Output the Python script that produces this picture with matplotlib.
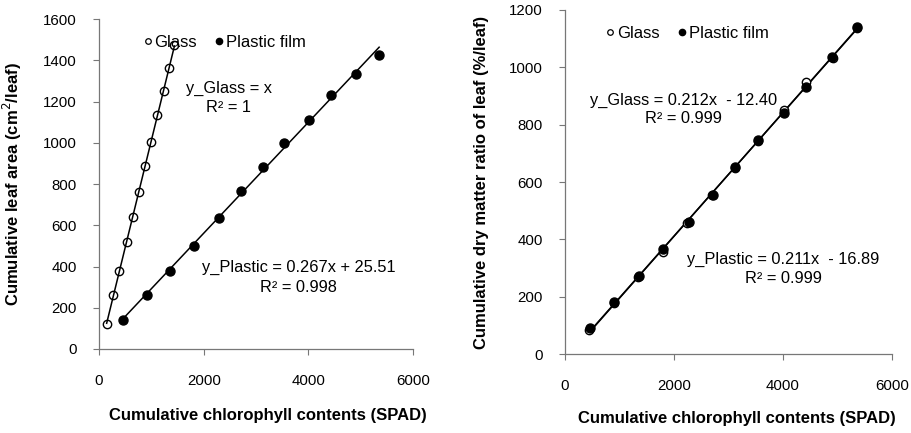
import numpy as np
import matplotlib
matplotlib.use("Agg")
import matplotlib.pyplot as plt
from matplotlib.lines import Line2D

plt.rcParams['font.family'] = ['Liberation Sans', 'DejaVu Sans']

# ---- data (left panel: leaf area) ----
glass_x_left = [146, 273, 381, 527, 641, 768, 883, 997, 1111, 1238, 1333, 1441]
glass_y_left = [123, 260, 376, 518, 642, 759, 885, 1006, 1135, 1251, 1361, 1474]
plastic_x = [463, 908, 1352, 1810, 2286, 2711, 3124, 3543, 4019, 4425, 4902, 5352]
plastic_y_left = [142, 263, 376, 500, 634, 768, 881, 1001, 1111, 1232, 1333, 1428]

# ---- data (right panel: dry matter ratio) ----
glass_x_right = [449, 905, 1342, 1803, 2246, 2695, 3126, 3551, 4012, 4431, 4923, 5354]
glass_y_right = [86, 178, 270, 356, 458, 554, 648, 742, 850, 948, 1034, 1138]
plastic_y_right = [90, 181, 274, 367, 460, 556, 652, 746, 841, 930, 1037, 1142]

x_ticks = [0, 2000, 4000, 6000]
left_y_ticks = [0, 200, 400, 600, 800, 1000, 1200, 1400, 1600]
right_y_ticks = [0, 200, 400, 600, 800, 1000, 1200]

fig = plt.figure(figsize=(9.11, 4.33), dpi=100)
axL = fig.add_axes([0.1087, 0.194, 0.3447, 0.762])
axR = fig.add_axes([0.620, 0.182, 0.359, 0.795])

def trend(ax, x, y):
    p = np.polyfit(x, y, 1)
    xs = np.array([min(x), max(x)])
    ax.plot(xs, np.polyval(p, xs), color='black', lw=1.1, zorder=2)

def style(ax, yticks):
    for s in ['top', 'right']:
        ax.spines[s].set_visible(False)
    for s in ['left', 'bottom']:
        ax.spines[s].set_color('#777777')
        ax.spines[s].set_linewidth(0.9)
    ax.set_xlim(0, 6000)
    ax.set_ylim(0, yticks[-1])
    ax.set_xticks(x_ticks)
    ax.set_yticks(yticks)
    ax.tick_params(axis='both', direction='out', length=4, width=0.8, color='#777777',
                   labelsize=10.8)
    ax.tick_params(axis='x', pad=14)
    ax.tick_params(axis='y', pad=12)

def legend(ax, pos):
    h = [Line2D([], [], ls='none', marker='o', mfc='white', mec='black', ms=4, mew=0.9),
         Line2D([], [], ls='none', marker='o', mfc='black', mec='black', ms=4.5)]
    ax.legend(h, ['Glass', 'Plastic film'], ncol=2, frameon=False, loc='center',
              bbox_to_anchor=pos, handlelength=0.5, handletextpad=0.15,
              columnspacing=1.1, fontsize=12)

FS = 11.8

# Left panel
trend(axL, glass_x_left, glass_y_left)
trend(axL, plastic_x, plastic_y_left)
axL.plot(glass_x_left, glass_y_left, ls='none', marker='o', mfc='none', mec='black',
         ms=6, mew=1.0, zorder=3)
axL.plot(plastic_x, plastic_y_left, ls='none', marker='o', mfc='black', mec='black',
         ms=6.5, zorder=3)
style(axL, left_y_ticks)
legend(axL, (0.40, 0.93))
axL.text(2476, 1265, 'y_Glass = x', ha='center', va='center', fontsize=FS)
axL.text(2476, 1173, 'R² = 1', ha='center', va='center', fontsize=FS)
axL.text(3810, 397, 'y_Plastic = 0.267x + 25.51', ha='center', va='center', fontsize=FS)
axL.text(3810, 300, 'R² = 0.998', ha='center', va='center', fontsize=FS)
axL.set_ylabel('Cumulative leaf area (cm$^2$/leaf)', fontsize=12, fontweight='bold')
axL.set_xlabel('Cumulative chlorophyll contents (SPAD)', fontsize=12, fontweight='bold')
axL.yaxis.set_label_coords(-0.24, 0.5)
axL.xaxis.set_label_coords(0.538, -0.179)

# Right panel
trend(axR, glass_x_right, glass_y_right)
trend(axR, plastic_x, plastic_y_right)
axR.plot(glass_x_right, glass_y_right, ls='none', marker='o', mfc='white', mec='black',
         ms=6, mew=1.0, zorder=3)
axR.plot(plastic_x, plastic_y_right, ls='none', marker='o', mfc='black', mec='black',
         ms=6.5, zorder=3)
style(axR, right_y_ticks)
legend(axR, (0.375, 0.933))
axR.text(2178, 886, 'y_Glass = 0.212x  - 12.40', ha='center', va='center', fontsize=FS)
axR.text(2178, 820, 'R² = 0.999', ha='center', va='center', fontsize=FS)
axR.text(4006, 331, 'y_Plastic = 0.211x  - 16.89', ha='center', va='center', fontsize=FS)
axR.text(4006, 265, 'R² = 0.999', ha='center', va='center', fontsize=FS)
axR.set_ylabel('Cumulative dry matter ratio of leaf (%/leaf)', fontsize=12, fontweight='bold')
axR.set_xlabel('Cumulative chlorophyll contents (SPAD)', fontsize=12, fontweight='bold')
axR.yaxis.set_label_coords(-0.232, 0.5)
axR.xaxis.set_label_coords(0.526, -0.166)

fig.savefig('out.png', dpi=100)
